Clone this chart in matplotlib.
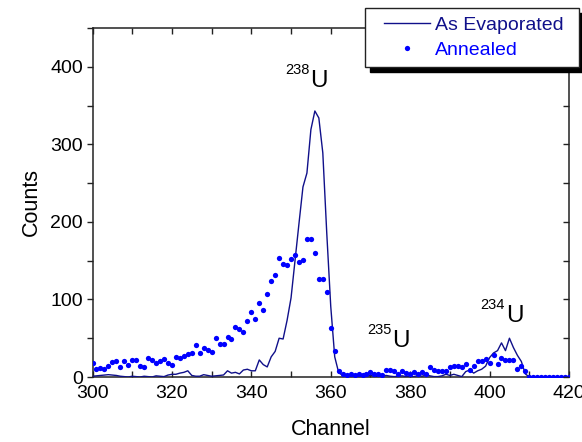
import numpy as np
import matplotlib
matplotlib.use("Agg")
import matplotlib.pyplot as plt
from matplotlib.lines import Line2D
from matplotlib.patches import Rectangle

plt.rcParams['font.family'] = ['Liberation Sans', 'DejaVu Sans']

channels = list(range(300, 421))

as_evaporated = [
    1, 1.5, 2, 2.5, 3, 2.5, 2, 1, 0.5, 0,            # 300-309
    1, 0.5, 0, 1, 0.5, 0, 1.5, 1, 0.5, 2.5,          # 310-319
    3.5, 3.5, 5, 6, 8, 2, 1, 1, 3, 2,                # 320-329
    1, 1.5, 2, 2.6, 8, 5, 6, 4, 9, 10,               # 330-339
    8, 8, 22, 16, 13, 26, 33, 50, 49, 73,            # 340-349
    102, 150, 198, 245, 263, 319, 343, 334, 289, 185,  # 350-359
    91, 26, 5.6, 2, 1, 0.5, 1, 0.5, 1.5, 1,          # 360-369
    2, 1, 0.5, 1.5, 2, 1, 0.5, 1, 1.5, 0.5,          # 370-379
    1, 0.5, 2, 1, 2.5, 1.5, 0.5, 0.5, 1.5, 3.5,      # 380-389
    2, 3.5, 2, 0.5, 7, 9, 5, 8, 10, 14,              # 390-399
    25, 31, 34, 44, 34, 50, 38, 28, 20, 4,           # 400-409
    0, 0, 0, 0, 0, 0, 0, 0, 0, 0, 0,                 # 410-420
]

annealed = [
    18.5, 10, 11, 10, 14, 19, 21, 13, 20, 15,        # 300-309
    21.5, 21.5, 14, 13, 24, 22, 18, 20, 23, 18.5,    # 310-319
    16, 26, 24.5, 27.5, 29.5, 30.5, 41, 31, 38, 35,  # 320-329
    32, 50, 43, 42, 51, 49, 64, 62, 58, 72,          # 330-339
    84, 75, 95, 86, 107, 124, 131, 154, 146, 144,    # 340-349
    152, 157, 148, 151, 178, 178, 160, 126, 126, 110,  # 350-359
    63, 33, 8, 4, 2.6, 4, 2.2, 3.4, 3, 3.4,          # 360-369
    6.5, 4, 3.5, 2.2, 8.5, 8.5, 7.5, 4.5, 7.8, 5,    # 370-379
    4, 6, 4.3, 6.5, 3.7, 12.6, 9.4, 7.7, 7.3, 7.3,   # 380-389
    12.6, 14.2, 14.2, 12.6, 17.3, 9.4, 13.6, 20, 21, 23.6,  # 390-399
    17.6, 28, 17, 25, 22.4, 22, 21.5, 10, 13.6, 7.3,  # 400-409
    0.5, 0.5, 0.5, 0.5, 0.5, 0.5, 0.5, 0.5, 0.5, 0.5, 0.5,  # 410-420
]

peak_labels = [("238", 354.6, 374), ("235", 375.3, 39), ("234", 403.9, 71)]
series_names = ["As Evaporated", "Annealed"]

line_color = "#10108a"
dot_color = "#0000ff"

W, H = 582, 442
fig = plt.figure(figsize=(W / 100, H / 100), dpi=100)
ax = fig.add_axes([92.5 / W, 1 - 377 / H, (569 - 92.5) / W, (377 - 28) / H])

ax.plot(channels, as_evaporated, color=line_color, lw=1.0, zorder=3)
ax.plot(channels, annealed, 'o', color=dot_color, ms=3.8, mew=0, zorder=4)

ax.set_xlim(300, 420)
ax.set_ylim(0, 450)
ax.set_xticks(np.arange(300, 421, 20))
ax.set_xticks(np.arange(300, 421, 10), minor=True)
ax.set_yticks(np.arange(0, 401, 100))
ax.set_yticks(np.arange(0, 451, 50), minor=True)

for s in ax.spines.values():
    s.set_linewidth(1.1)
    s.set_color('#222222')

ax.tick_params(axis='x', which='both', direction='in', top=True, bottom=True,
               length=4, width=1.0, color='#222222', labelsize=14, pad=6)
ax.tick_params(axis='y', which='both', direction='out', left=True, right=False,
               length=4, width=1.0, color='#222222', labelsize=14, pad=3)

# right-side inward ticks via a twin axis
axr = ax.twinx()
axr.set_ylim(0, 450)
axr.set_yticks(np.arange(0, 451, 50))
axr.tick_params(axis='y', direction='in', length=4, width=1.0, color='#222222',
                labelright=False)
for s in axr.spines.values():
    s.set_visible(False)

ax.set_xlabel("Channel", fontsize=15.5, labelpad=12)
ax.set_ylabel("Counts", fontsize=15.5, labelpad=6)

for iso, xc, yc in peak_labels:
    ax.text(xc, yc + 17, iso, fontsize=10.5, ha='right', va='baseline')
    ax.text(xc + 0.2, yc, "U", fontsize=17.5, ha='left', va='baseline')

# legend box with solid shadow
bx0, by0, bx1, by1 = 365, 8, 579, 67
sh = 5
fig.patches.append(Rectangle(((bx0 + sh) / W, 1 - (by1 + sh) / H), (bx1 - bx0) / W,
                             (by1 - by0) / H, transform=fig.transFigure,
                             facecolor='black', edgecolor='black', zorder=2))
fig.patches.append(Rectangle((bx0 / W, 1 - by1 / H), (bx1 - bx0) / W, (by1 - by0) / H,
                             transform=fig.transFigure, facecolor='white',
                             edgecolor='#222222', lw=1.0, zorder=3))
handles = [Line2D([], [], color=line_color, lw=1.0),
           Line2D([], [], ls='none', marker='o', color=dot_color, ms=3.8, mew=0)]
leg = fig.legend(handles, series_names, loc='center',
                 bbox_to_anchor=((bx0 + bx1) / 2 / W + 0.003, 1 - (by0 + by1) / 2 / H),
                 frameon=False, fontsize=14, handlelength=2.4, handletextpad=0.25,
                 labelspacing=0.35, borderaxespad=0, borderpad=0,
                 labelcolor=[line_color, dot_color])
leg.set_zorder(10)

fig.savefig("out.png", dpi=100)
